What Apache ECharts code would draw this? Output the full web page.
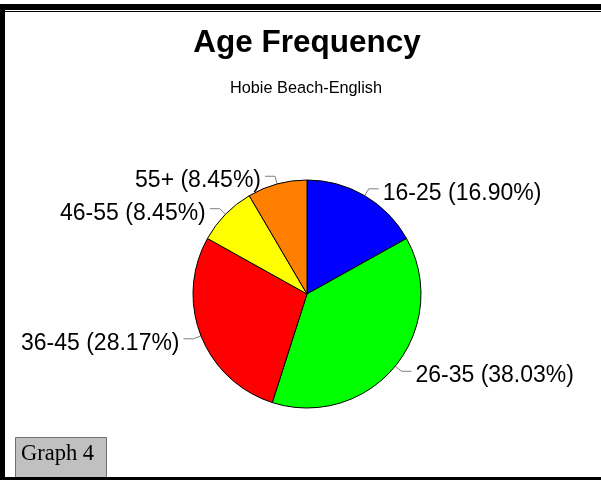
<!DOCTYPE html>
<html>
<head>
<meta charset="utf-8">
<script src="https://cdn.jsdelivr.net/npm/echarts@6/dist/echarts.min.js"></script>
<style>
html,body{margin:0;padding:0;background:#fff;}
#chart{width:601px;height:480px;}
</style>
</head>
<body>
<div id="chart"></div>
<script>
var titleText = 'Age Frequency';
var subtitleText = 'Hobie Beach-English';
var graphLabel = 'Graph 4';
var categories = ['16-25', '26-35', '36-45', '46-55', '55+'];
var counts = [12, 27, 20, 6, 6];
var colors = ['#0000ff', '#00ff00', '#ff0000', '#ffff00', '#ff8000'];

var chart = echarts.init(document.getElementById('chart'), null, {renderer: 'canvas'});
var data = categories.map(function (c, i) {
  return {name: c, value: counts[i], itemStyle: {color: colors[i]}};
});
chart.setOption({
  animation: false,
  backgroundColor: '#ffffff',
  title: [
    {text: titleText, left: 302, top: 22, textAlign: 'center',
     textStyle: {fontFamily: 'Liberation Sans, Arial', fontSize: 31.5, fontWeight: 'bold', color: '#000'}},
    {text: subtitleText, left: 301, top: 76, textAlign: 'center',
     textStyle: {fontFamily: 'Liberation Sans, Arial', fontSize: 16.3, fontWeight: 'normal', color: '#000'}}
  ],
  series: [{
    type: 'pie',
    center: [307, 294],
    radius: 114,
    startAngle: 90,
    clockwise: true,
    data: data,
    itemStyle: {borderColor: '#000', borderWidth: 1},
    label: {
      show: true,
      position: 'outside',
      fontFamily: 'Liberation Sans, Arial',
      fontSize: 23,
      color: '#000',
      distanceToLabelLine: 4,
      formatter: function (p) { return '{a|' + p.name + ' (' + p.percent.toFixed(2) + '%)}'; },
      rich: {
        a: {fontFamily: 'Liberation Sans, Arial', fontSize: 23, color: '#000', padding: [9, 0, 0, 0]}
      }
    },
    labelLine: {show: true, length: 8, length2: 10, lineStyle: {color: '#808080', width: 1}},
    emphasis: {disabled: true}
  }],
  graphic: [
    {type: 'rect', shape: {x: 0, y: 4, width: 601, height: 6}, style: {fill: '#000'}, silent: true},
    {type: 'rect', shape: {x: 5, y: 11, width: 596, height: 1}, style: {fill: '#000'}, silent: true},
    {type: 'rect', shape: {x: 0, y: 4, width: 5, height: 476}, style: {fill: '#000'}, silent: true},
    {type: 'rect', shape: {x: 15.5, y: 437.5, width: 91, height: 42}, style: {fill: '#c0c0c0', stroke: '#707070', lineWidth: 1}, silent: true},
    {type: 'text', x: 21, y: 454.5, style: {text: graphLabel, fill: '#000', font: '22.5px "Liberation Serif", "Times New Roman", serif', verticalAlign: 'middle', align: 'left'}, silent: true},
    {type: 'rect', shape: {x: 0, y: 477, width: 601, height: 3}, style: {fill: '#000'}, silent: true}
  ]
});
</script>
</body>
</html>
